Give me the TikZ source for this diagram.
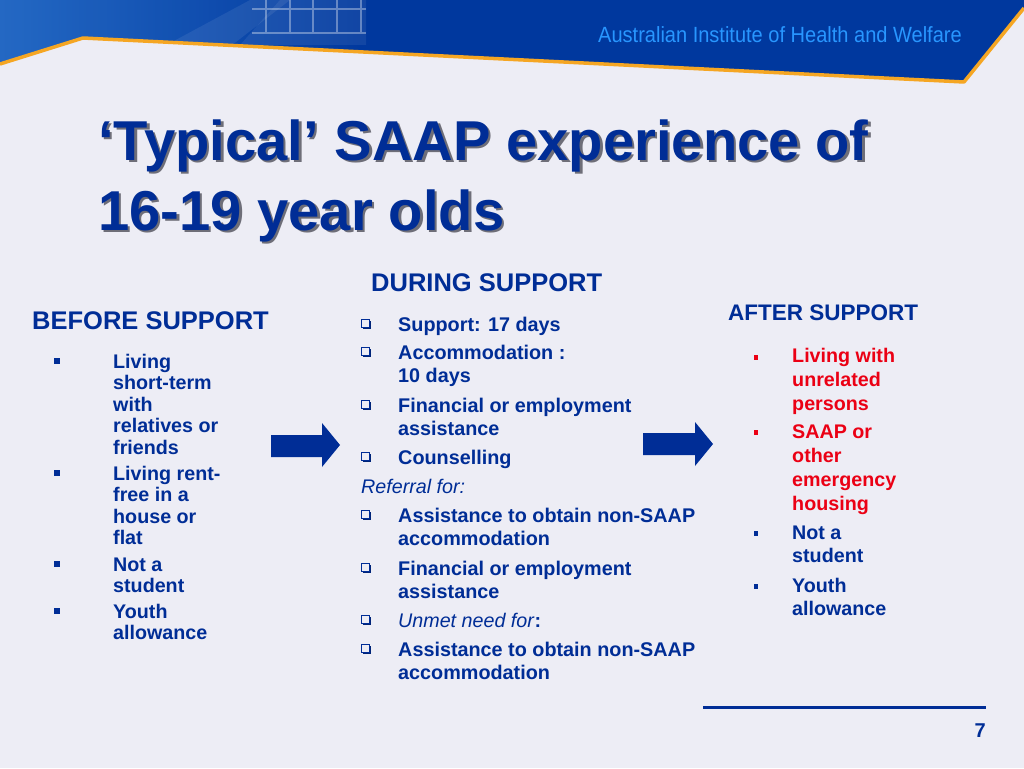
\documentclass[tikz,border=0pt]{standalone}
\usepackage{fontspec}
\setmainfont{Liberation Sans}
\usepackage{graphicx}
\definecolor{bg}{RGB}{237,237,245}
\definecolor{navy}{RGB}{0,45,150}
\definecolor{hdrblue}{RGB}{0,56,158}
\definecolor{hdrlight}{RGB}{40,110,200}
\definecolor{orangeline}{RGB}{245,166,35}
\definecolor{aihw}{RGB}{40,150,255}
\definecolor{redtext}{RGB}{235,0,20}
\definecolor{shadowgray}{RGB}{110,110,120}
\tikzset{
  body/.style={font=\fontsize{19.7}{21.6}\selectfont\bfseries, text=navy, inner sep=0pt, anchor=base west, align=left},
  midbody/.style={body, font=\fontsize{19.8}{23.5}\selectfont\bfseries},
  redbody/.style={body, text=redtext, font=\fontsize{19.7}{24}\selectfont\bfseries},
  afterbody/.style={body, font=\fontsize{19.7}{23.5}\selectfont\bfseries},
  heading/.style={font=\fontsize{25.5}{30}\selectfont\bfseries, text=navy, inner sep=0pt, anchor=base west},
  titletext/.style={font=\fontsize{56.2}{70}\selectfont\bfseries, inner sep=0pt, anchor=base west, align=left},
  sqbullet/.style={fill=navy},
  boxbullet/.style={draw=navy, line width=1pt, fill=bg},
  boxshadow/.style={fill=navy!80!black},
  blockarrow/.style={fill=navy}
}
\newcommand{\chk}[1]{%
  \fill[boxshadow] (362.5,#1-10.5) rectangle (370.5,#1-2.5);
  \filldraw[boxbullet] (361,#1-12) rectangle (369,#1-4);
}
\begin{document}
\begin{tikzpicture}[x=1pt,y=-1pt]
\useasboundingbox (0,0) rectangle (1024,768);
\fill[bg] (0,0) rectangle (1024,768);
% header band
\fill[hdrblue] (0,0) -- (1024,0) -- (1024,8) -- (964,82) -- (83,38) -- (0,64) -- cycle;
\begin{scope}
\clip (0,0) -- (370,0) -- (370,52) -- (83,38) -- (0,64) -- cycle;
\shade[left color=hdrlight, right color=hdrblue, opacity=0.9] (0,0) rectangle (370,70);
\fill[white, opacity=0.08] (120,70) -- (250,0) -- (290,0) -- (200,70) -- cycle;
\fill[white, opacity=0.07] (240,45) -- (280,0) -- (366,0) -- (366,45) -- cycle;
\draw[white, opacity=0.35, line width=1.3pt]
  (266,0) -- (266,33) (290,0) -- (290,33) (313,0) -- (313,33) (337,0) -- (337,33) (361,0) -- (361,33)
  (252,9) -- (366,9) (252,33) -- (366,33);
\end{scope}
\draw[orangeline, line width=3.5pt, line join=round] (0,64) -- (83,38) -- (964,82) -- (1024,8);
\node[inner sep=0pt, anchor=base west, text=aihw, font=\fontsize{22}{26}\selectfont] (aihw) at (598,42) {\scalebox{0.91}[1]{Australian Institute of Health and Welfare}};
% title (anchored at the baseline of its last line)
\node[titletext, text=shadowgray] (titleshadow) at (100.5,232.5) {‘Typical’ SAAP experience of\\16-19 year olds};
\node[titletext, text=navy] (title) at (98,230) {‘Typical’ SAAP experience of\\16-19 year olds};
% headings
\node[heading] (before) at (32,329) {BEFORE SUPPORT};
\node[heading] (during) at (371,291) {DURING SUPPORT};
\node[heading, font=\fontsize{22.5}{27}\selectfont\bfseries] (after) at (728,320) {AFTER SUPPORT};
% before list (nodes anchored at last-line baseline)
\foreach \b in {368,480,571,618} { \fill[sqbullet] (54,\b-10) rectangle (60,\b-4); }
\node[body] (b1) at (113,454.4) {Living\\short-term\\with\\relatives or\\friends};
\node[body] (b2) at (113,544.8) {Living rent-\\free in a\\house or\\flat};
\node[body] (b3) at (113,592.6) {Not a\\student};
\node[body] (b4) at (113,639.6) {Youth\\allowance};
% during list
\foreach \b in {331,359,412,464,522,575,627,656} { \chk{\b} }
\node[midbody] (d1) at (398,331) {Support: 17 days};
\node[midbody] (d2) at (398,382.5) {Accommodation :\\10 days};
\node[midbody] (d3) at (398,435.5) {Financial or employment\\assistance};
\node[midbody] (d4) at (398,464) {Counselling};
\node[body, font=\fontsize{19.7}{23.5}\selectfont\itshape] (ref) at (361,493) {Referral for:};
\node[midbody] (d5) at (398,545.5) {Assistance to obtain non-SAAP\\accommodation};
\node[midbody] (d6) at (398,598.5) {Financial or employment\\assistance};
\node[body, font=\fontsize{19.7}{23.5}\selectfont] (d7) at (398,627) {\textit{Unmet need for}\textbf{:}};
\node[midbody] (d8) at (398,679.5) {Assistance to obtain non-SAAP\\accommodation};
% after list
\fill[redtext] (754,355) rectangle (758,360);
\fill[redtext] (754,430) rectangle (758,435);
\fill[navy] (754,531) rectangle (758,536);
\fill[navy] (754,584) rectangle (758,589);
\node[redbody] (a1) at (792,410.7) {Living with\\unrelated\\persons};
\node[redbody] (a2) at (792,510) {SAAP or\\other\\emergency\\housing};
\node[afterbody] (a3) at (792,562.5) {Not a\\student};
\node[afterbody] (a4) at (792,615.5) {Youth\\allowance};
% block arrows
\fill[blockarrow] (271,435) -- (322,435) -- (322,423) -- (340,445) -- (322,467) -- (322,457) -- (271,457) -- cycle;
\fill[blockarrow] (643,433) -- (695,433) -- (695,422) -- (713,444) -- (695,466) -- (695,455) -- (643,455) -- cycle;
% footer
\coordinate (fl) at (703,707);
\coordinate (fr) at (986,707);
\draw[navy, line width=3pt] (fl) -- (fr);
\node[inner sep=0pt, anchor=base east, text=navy, font=\fontsize{20}{24}\selectfont\bfseries] (pg) at (986,737) {7};
\end{tikzpicture}
\end{document}
